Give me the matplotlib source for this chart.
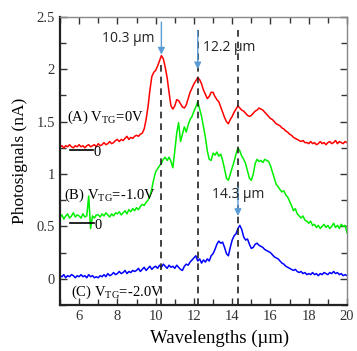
import numpy as np
import matplotlib
matplotlib.use("Agg")
import matplotlib.pyplot as plt

plt.rcParams['font.family'] = 'Liberation Serif'
plt.rcParams['mathtext.fontset'] = 'custom'
plt.rcParams['mathtext.rm'] = 'Liberation Serif'

# wavelength grid (um), 0.1 um step
wavelengths = np.round(np.arange(5.0, 20.05, 0.1), 1)

# (A) V_TG = 0 V
signal_a = [
    1.26, 1.27, 1.25, 1.27, 1.26, 1.28, 1.26, 1.25, 1.27, 1.26,
    1.28, 1.26, 1.27, 1.25, 1.27, 1.28, 1.26, 1.27, 1.28, 1.26,
    1.29, 1.27, 1.28, 1.30, 1.28, 1.29, 1.31, 1.29, 1.30, 1.32,
    1.33, 1.31, 1.33, 1.32, 1.34, 1.36, 1.33, 1.35, 1.34, 1.36,
    1.37, 1.36, 1.38, 1.39, 1.43, 1.52, 1.64, 1.80, 1.93, 1.97,
    1.99, 2.03, 2.08, 2.13, 2.10, 2.02, 1.92, 1.78, 1.65, 1.62,
    1.65, 1.71, 1.70, 1.67, 1.64, 1.63, 1.66, 1.72, 1.78, 1.82,
    1.86, 1.89, 1.92, 1.90, 1.86, 1.80, 1.76, 1.72, 1.74, 1.78,
    1.78, 1.74, 1.71, 1.69, 1.64, 1.59, 1.54, 1.50, 1.48, 1.52,
    1.55, 1.59, 1.62, 1.65, 1.63, 1.61, 1.60, 1.58, 1.56, 1.55,
    1.56, 1.58, 1.60, 1.61, 1.63, 1.62, 1.61, 1.59, 1.57, 1.55,
    1.53, 1.52, 1.50, 1.48, 1.47, 1.46, 1.44, 1.43, 1.41, 1.40,
    1.38, 1.37, 1.35, 1.34, 1.33, 1.32, 1.31, 1.32, 1.30, 1.30,
    1.29, 1.31, 1.29, 1.30, 1.28, 1.29, 1.31, 1.29, 1.30, 1.28,
    1.30, 1.31, 1.29, 1.30, 1.32, 1.29, 1.31, 1.30, 1.29, 1.31,
    1.30,
]

# (B) V_TG = -1.0 V
signal_b = [
    0.59, 0.61, 0.57, 0.60, 0.62, 0.58, 0.60, 0.63, 0.59, 0.61,
    0.60, 0.58, 0.62, 0.59, 0.60, 0.79, 0.48, 0.60, 0.58, 0.61,
    0.61, 0.59, 0.62, 0.60, 0.63, 0.61, 0.59, 0.62, 0.60, 0.63,
    0.62, 0.64, 0.61, 0.63, 0.65, 0.62, 0.66, 0.64, 0.67, 0.65,
    0.68, 0.66, 0.69, 0.71, 0.70, 0.73, 0.75, 0.79, 0.86, 0.95,
    1.02, 1.05, 1.08, 1.10, 1.14, 1.16, 1.13, 1.16, 1.12, 1.06,
    1.22, 1.39, 1.49, 1.31, 1.38, 1.45, 1.40, 1.47, 1.52, 1.55,
    1.60, 1.64, 1.69, 1.62, 1.55, 1.45, 1.35, 1.22, 1.14, 1.13,
    1.20, 1.18, 1.21, 1.17, 1.19, 1.13, 1.05, 0.96, 0.94, 1.00,
    1.06, 1.12, 1.19, 1.25, 1.22, 1.17, 1.14, 1.10, 1.03, 0.96,
    0.94, 1.00, 1.10, 1.14, 1.12, 1.13, 1.11, 1.14, 1.13, 1.12,
    1.08, 1.02, 0.96, 0.90, 0.88, 0.85, 0.83, 0.84, 0.80, 0.78,
    0.74, 0.70, 0.65, 0.67, 0.62, 0.60, 0.58, 0.60, 0.56, 0.55,
    0.53, 0.55, 0.51, 0.52, 0.49, 0.51, 0.48, 0.50, 0.52, 0.49,
    0.51, 0.48, 0.50, 0.53, 0.49, 0.51, 0.48, 0.52, 0.50, 0.51,
    0.44,
]

# (C) V_TG = -2.0 V
signal_c = [
    0.03, 0.02, 0.04, 0.01, 0.03, 0.02, 0.04, 0.03, 0.01, 0.03,
    0.02, 0.04, 0.02, 0.03, 0.01, 0.04, 0.02, 0.03, 0.01, 0.02,
    0.01, 0.03, 0.02, 0.04, 0.02, 0.05, 0.03, 0.04, 0.06, 0.04,
    0.05, 0.07, 0.05, 0.06, 0.08, 0.05, 0.07, 0.06, 0.08, 0.07,
    0.08, 0.10, 0.07, 0.09, 0.11, 0.08, 0.10, 0.12, 0.09, 0.11,
    0.12, 0.10, 0.13, 0.11, 0.14, 0.12, 0.10, 0.13, 0.11, 0.12,
    0.10, 0.13, 0.11, 0.09, 0.08, 0.12, 0.14, 0.13, 0.16, 0.18,
    0.20, 0.22, 0.17, 0.19, 0.15, 0.18, 0.16, 0.19, 0.17, 0.22,
    0.24, 0.28, 0.33, 0.36, 0.34, 0.35, 0.30, 0.24, 0.22, 0.30,
    0.37, 0.41, 0.43, 0.48, 0.51, 0.47, 0.40, 0.37, 0.38, 0.33,
    0.29, 0.30, 0.33, 0.34, 0.32, 0.31, 0.30, 0.28, 0.27, 0.26,
    0.25, 0.23, 0.21, 0.20, 0.19, 0.17, 0.15, 0.14, 0.12, 0.11,
    0.10, 0.09, 0.08, 0.09, 0.07, 0.06, 0.07, 0.05, 0.06, 0.04,
    0.05, 0.04, 0.06, 0.04, 0.05, 0.03, 0.05, 0.04, 0.06, 0.05,
    0.04, 0.06, 0.05, 0.07, 0.05, 0.06, 0.04, 0.05, 0.03, 0.04,
    0.03,
]

peaks = [10.3, 12.2, 14.3]
peak_labels = ['10.3 µm', '12.2 µm', '14.3 µm']
dash_tops = [2.07, 2.37, 2.37]
arrow_from = [2.45, 2.37, 0.875]
arrow_to = [2.14, 2.0, 0.6]
label_pos = [(8.55, 2.29), (12.45, 2.21), (14.3, 0.80)]
label_ha = ['center', 'left', 'center']

fig = plt.figure(figsize=(3.57, 3.51), dpi=100)
ax = fig.add_axes([0.168, 0.131, 0.804, 0.821])

ax.plot(wavelengths, signal_a, color='#ff0000', lw=1.1)
ax.plot(wavelengths, signal_b, color='#00ee00', lw=1.1)
ax.plot(wavelengths, signal_c, color='#0000ff', lw=1.1)

for p, top in zip(peaks, dash_tops):
    ax.plot([p, p], [-0.25, top], color='#222222', lw=1.2, ls=(0, (4, 3)))

for p, y0, y1 in zip(peaks, arrow_from, arrow_to):
    ax.annotate('', xy=(p, y1), xytext=(p, y0),
                arrowprops=dict(arrowstyle='-|>', color='#5b9bd5', lw=1.0,
                                mutation_scale=10, shrinkA=0, shrinkB=0))

for txt, (tx, ty), ha in zip(peak_labels, label_pos, label_ha):
    ax.text(tx, ty, txt, fontsize=10, family='Open Sans', ha=ha, va='center',
            color='#222222')

# curve labels and zero markers
ax.text(5.35, 1.54, r'(A) V$_{\rm TG}$=0V', fontsize=10.5, va='center')
ax.text(5.2, 0.80, r'(B) V$_{\rm TG}$=-1.0V', fontsize=10.5, va='center')
ax.text(5.6, -0.13, r'(C) V$_{\rm TG}$=-2.0V', fontsize=10.5, va='center')
ax.plot([5.5, 6.7], [1.23, 1.23], color='black', lw=1.2)
ax.text(6.95, 1.21, '0', fontsize=10.5, ha='center', va='center')
ax.plot([5.5, 6.8], [0.53, 0.53], color='black', lw=1.2)
ax.text(7.0, 0.51, '0', fontsize=10.5, ha='center', va='center')

ax.set_xlim(5, 20)
ax.set_ylim(-0.25, 2.5)
ax.set_xticks([6, 8, 10, 12, 14, 16, 18, 20])
ax.set_xticks(np.arange(5, 21, 1), minor=True)
ax.set_yticks([0, 0.5, 1, 1.5, 2, 2.5])
ax.set_yticklabels(['0', '0.5', '1', '1.5', '2', '2.5'])
ax.set_yticks(np.arange(-0.25, 2.51, 0.25), minor=True)
ax.tick_params(which='both', direction='in', top=True, right=True,
               labelsize=10.5, labelcolor='#333333', color='#333333')
ax.tick_params(which='major', length=5, width=1)
ax.tick_params(which='minor', length=4, width=1)

for side in ['left', 'bottom']:
    ax.spines[side].set_linewidth(1.6)
    ax.spines[side].set_color('#222222')
for side in ['top', 'right']:
    ax.spines[side].set_linewidth(1.0)
    ax.spines[side].set_color('#888888')

ax.set_xlabel('Wavelengths (µm)', fontsize=13.5)
ax.xaxis.set_label_coords(0.557, -0.085)
ax.set_ylabel('Photosignals (nA)', fontsize=12.5, labelpad=6)

fig.savefig('out.png', dpi=100)
